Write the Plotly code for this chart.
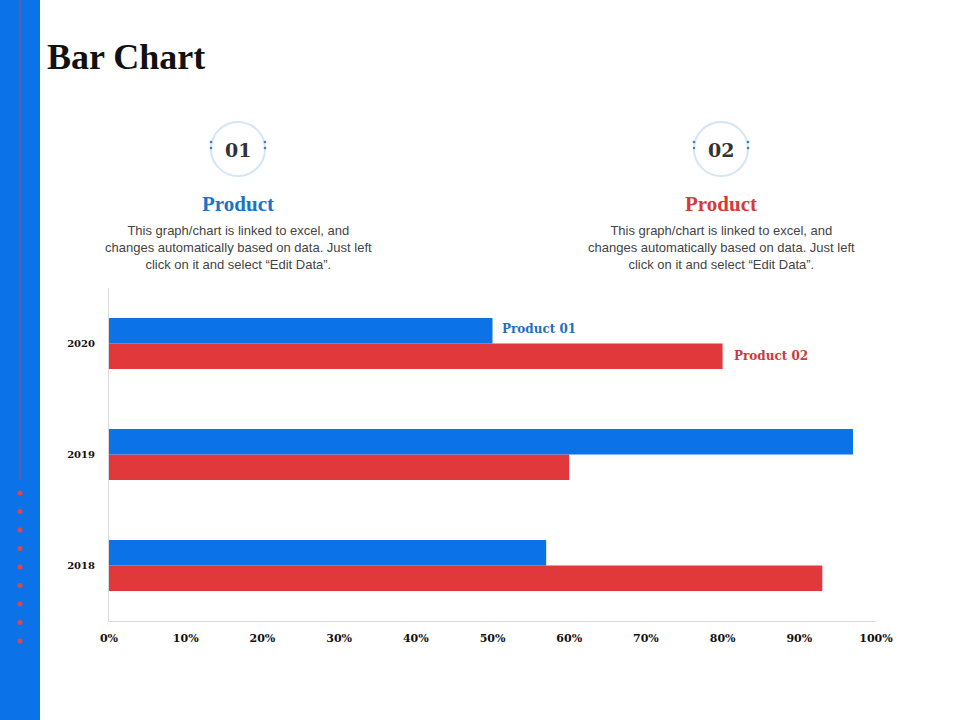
import plotly.graph_objects as go

years = ["2018", "2019", "2020"]
product01 = [57, 97, 50]
product02 = [93, 60, 80]
series_names = ["Product 01", "Product 02"]
x_ticks = [0, 10, 20, 30, 40, 50, 60, 70, 80, 90, 100]
x_tick_labels = [f"{v}%" for v in x_ticks]

BLUE = "#0B73E7"
RED = "#E0383B"
W, H = 960, 720

fig = go.Figure()
# red first so that blue sits on top in horizontal grouping
fig.add_trace(go.Bar(y=years, x=product02, orientation="h", name=series_names[1],
                     marker=dict(color=RED, line=dict(width=0))))
fig.add_trace(go.Bar(y=years, x=product01, orientation="h", name=series_names[0],
                     marker=dict(color=BLUE, line=dict(width=0))))

fig.update_layout(
    width=W, height=H, autosize=False, margin=dict(l=0, r=0, t=0, b=0, pad=0, autoexpand=False),
    paper_bgcolor="white", plot_bgcolor="white",
    barmode="group", bargap=0.54, bargroupgap=0,
    showlegend=False,
    xaxis=dict(domain=[109 / W, 876 / W], range=[0, 100], tickvals=x_ticks, automargin=False,
               ticktext=x_tick_labels, showgrid=False, zeroline=False,
               showline=True, linecolor="#d9d9d9", linewidth=1, ticks="",
               ticklen=0, ticklabelstandoff=7,
               tickfont=dict(family="DejaVu Serif", size=11, color="#111", weight="bold")),
    yaxis=dict(domain=[1 - 621 / H, 1 - 288 / H], type="category", range=[-0.5, 2.5], automargin=False,
               showgrid=False, zeroline=False, showline=True, linecolor="#d9d9d9",
               linewidth=1, ticks="", ticklabelstandoff=11,
               tickfont=dict(family="DejaVu Serif", size=10, color="#111", weight="bold")),
)

# data labels for 2020 (category index of the year)
idx2020 = years.index("2020")
fig.add_annotation(x=product01[idx2020], y=idx2020, xref="x", yref="y", text=series_names[0],
                   showarrow=False, xanchor="left", xshift=7, yshift=15,
                   font=dict(family="DejaVu Serif", size=12, color="#1F6FBF", weight="bold"))
fig.add_annotation(x=product02[idx2020], y=idx2020, xref="x", yref="y", text=series_names[1],
                   showarrow=False, xanchor="left", xshift=9, yshift=-12,
                   font=dict(family="DejaVu Serif", size=12, color="#C83A3A", weight="bold"))

shapes = []
# left blue band with thin line and dots
shapes.append(dict(type="rect", xref="paper", yref="paper", x0=0, x1=40 / W, y0=0, y1=1,
                   fillcolor=BLUE, line=dict(width=0), layer="below"))
shapes.append(dict(type="line", xref="paper", yref="paper", x0=20 / W, x1=20 / W,
                   y0=1 - 480 / H, y1=1, line=dict(color="rgba(200,70,90,0.55)", width=1.5)))
for i in range(9):
    cy = 493 + i * 18.5
    shapes.append(dict(type="circle", xref="paper", yref="paper",
                       x0=17.5 / W, x1=22.5 / W, y0=1 - (cy + 2.5) / H, y1=1 - (cy - 2.5) / H,
                       fillcolor="#E0454A", line=dict(width=0)))

# header circles
for cx in (238, 721):
    r = 27
    shapes.append(dict(type="circle", xref="paper", yref="paper",
                       x0=(cx - r) / W, x1=(cx + r) / W, y0=1 - (149 + r) / H, y1=1 - (149 - r) / H,
                       fillcolor="white", line=dict(color="#D3E5F6", width=2)))
    for dx in (-27, 27):
        for dy in (-6, 0):
            px, py = cx + dx, 148 + dy
            shapes.append(dict(type="circle", xref="paper", yref="paper",
                               x0=(px - 1.3) / W, x1=(px + 1.3) / W,
                               y0=1 - (py + 1.3) / H, y1=1 - (py - 1.3) / H,
                               fillcolor="#3C7CC8", line=dict(width=0)))
fig.update_layout(shapes=shapes)

def pa(text, x, y, size, color, family, weight="normal", xanchor="center"):
    fig.add_annotation(text=text, x=x / W, y=1 - y / H, xref="paper", yref="paper",
                       showarrow=False, xanchor=xanchor, yanchor="middle",
                       font=dict(size=size, color=color, family=family, weight=weight))

pa("Bar Chart", 45, 57, 36, "#111111", "Liberation Serif", "bold", xanchor="left")
desc = ("This graph/chart is linked to excel, and<br>changes automatically based on data. Just left"
        "<br>click on it and select \u201cEdit Data\u201d.")
for cx, num, col in ((238, "01", "#1A73C8"), (721, "02", "#D63A3A")):
    pa(num, cx, 150, 19, "#333333", "DejaVu Serif", "bold")
    pa("Product", cx, 204, 21, col, "Liberation Serif", "bold")
    fig.add_annotation(text=desc, x=cx / W, y=1 - 247 / H, xref="paper", yref="paper",
                       showarrow=False, xanchor="center", yanchor="middle", align="center",
                       font=dict(size=13, color="#444444", family="Liberation Sans"))

post = """
var gd=document.getElementById('{plot_id}');
document.body.style.margin='0';
document.body.style.overflow='hidden';
gd.style.position='absolute'; gd.style.left='0px'; gd.style.top='0px';
"""
fig.write_html("out.html", config={"responsive": False, "displayModeBar": False},
               post_script=post)
